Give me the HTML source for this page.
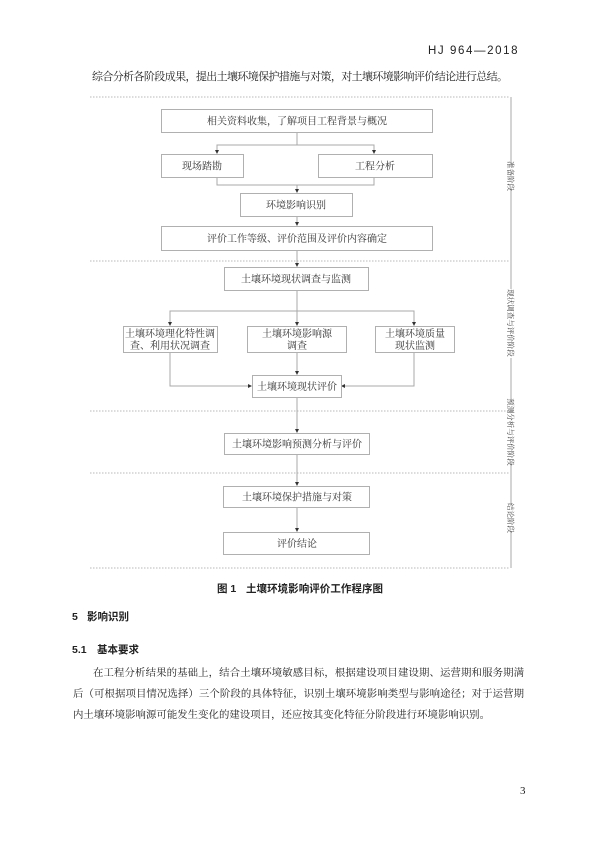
<!DOCTYPE html>
<html><head><meta charset="utf-8"><style>
html,body{margin:0;padding:0;background:#fff;}
svg{display:block;}
text{font-family:"Liberation Serif","Noto Serif CJK SC","Noto Sans CJK SC",serif;fill:#222;}
.b{fill:#fff;stroke:#b0b0b0;stroke-width:1;}
.l{stroke:#a8a8a8;stroke-width:1;fill:none;}
.d{stroke:#b8b8b8;stroke-width:1;stroke-dasharray:1.5,1.5;fill:none;}
.t{font-size:10px;fill:#333;}
.s{font-size:7.5px;fill:#444;}
.a{fill:#333;}
.h{font-family:"Liberation Sans","Noto Sans CJK SC",sans-serif;font-weight:bold;}
</style></head><body>
<svg width="600" height="848" viewBox="0 0 600 848" xmlns="http://www.w3.org/2000/svg">
<text x="428" y="54" font-size="11.5" letter-spacing="1.6" style="font-family:'Liberation Sans',sans-serif">HJ 964—2018</text>
<text x="92" y="80" font-size="11" textLength="416">综合分析各阶段成果，提出土壤环境保护措施与对策，对土壤环境影响评价结论进行总结。</text>

<line class="d" x1="90" y1="97" x2="510" y2="97"/>
<line class="d" x1="90" y1="261" x2="510" y2="261"/>
<line class="d" x1="90" y1="411" x2="510" y2="411"/>
<line class="d" x1="90" y1="473" x2="510" y2="473"/>
<line class="d" x1="90" y1="568" x2="510" y2="568"/>
<line class="l" x1="511" y1="97" x2="511" y2="164"/>
<line class="l" x1="511" y1="188" x2="511" y2="289"/>
<line class="l" x1="511" y1="358" x2="511" y2="402"/>
<line class="l" x1="511" y1="461" x2="511" y2="504"/>
<line class="l" x1="511" y1="531" x2="511" y2="568"/>
<text class="s" transform="translate(508,176) rotate(90)" text-anchor="middle">准备阶段</text>
<text class="s" transform="translate(508,323) rotate(90)" text-anchor="middle">现状调查与评价阶段</text>
<text class="s" transform="translate(508,432) rotate(90)" text-anchor="middle">预测分析与评价阶段</text>
<text class="s" transform="translate(508,518) rotate(90)" text-anchor="middle">结论阶段</text>

<polyline class="l" points="297,132 297,145"/>
<polyline class="l" points="217,152 217,145 374,145 374,152"/>
<polyline class="l" points="217,177 217,185 374,185 374,177"/>
<polyline class="l" points="297,185 297,191"/>
<polyline class="l" points="297,216 297,224"/>
<polyline class="l" points="297,250 297,265"/>
<polyline class="l" points="297,290 297,324"/>
<polyline class="l" points="170,324 170,311 414,311 414,324"/>
<polyline class="l" points="297,352 297,373"/>
<polyline class="l" points="170,352 170,386 250,386"/>
<polyline class="l" points="414,352 414,386 343,386"/>
<polyline class="l" points="297,397 297,431"/>
<polyline class="l" points="297,454 297,484"/>
<polyline class="l" points="297,507 297,530"/>
<path class="a" d="M215,150h4l-2,4z M372,150h4l-2,4z M295,189h4l-2,4z M295,222h4l-2,4z M295,263h4l-2,4z M168,322h4l-2,4z M295,322h4l-2,4z M412,322h4l-2,4z M295,371h4l-2,4z M248,384v4l4,-2z M345,384v4l-4,-2z M295,429h4l-2,4z M295,482h4l-2,4z M295,528h4l-2,4z"/>

<rect class="b" x="161.5" y="109.5" width="271" height="23"/>
<text class="t" x="297" y="124.5" text-anchor="middle">相关资料收集，了解项目工程背景与概况</text>
<rect class="b" x="161.5" y="154.5" width="82" height="23"/>
<text class="t" x="202" y="169.5" text-anchor="middle">现场踏勘</text>
<rect class="b" x="318.5" y="154.5" width="114" height="23"/>
<text class="t" x="375" y="169.5" text-anchor="middle">工程分析</text>
<rect class="b" x="240.5" y="193.5" width="112" height="23"/>
<text class="t" x="296" y="208.5" text-anchor="middle">环境影响识别</text>
<rect class="b" x="161.5" y="226.5" width="271" height="24"/>
<text class="t" x="297" y="242" text-anchor="middle">评价工作等级、评价范围及评价内容确定</text>

<rect class="b" x="224.5" y="267.5" width="144" height="23"/>
<text class="t" x="296" y="282.5" text-anchor="middle">土壤环境现状调查与监测</text>
<rect class="b" x="123.5" y="326.5" width="94" height="26"/>
<text class="t" x="170" y="337" text-anchor="middle">土壤环境理化特性调</text>
<text class="t" x="170" y="349" text-anchor="middle">查、利用状况调查</text>
<rect class="b" x="247.5" y="326.5" width="99" height="26"/>
<text class="t" x="297" y="337" text-anchor="middle">土壤环境影响源</text>
<text class="t" x="297" y="349" text-anchor="middle">调查</text>
<rect class="b" x="375.5" y="326.5" width="79" height="26"/>
<text class="t" x="415" y="337" text-anchor="middle">土壤环境质量</text>
<text class="t" x="415" y="349" text-anchor="middle">现状监测</text>
<rect class="b" x="252.5" y="375.5" width="89" height="22"/>
<text class="t" x="297" y="390" text-anchor="middle">土壤环境现状评价</text>

<rect class="b" x="224.5" y="433.5" width="145" height="21"/>
<text class="t" x="297" y="447.5" text-anchor="middle">土壤环境影响预测分析与评价</text>
<rect class="b" x="223.5" y="486.5" width="146" height="21"/>
<text class="t" x="297" y="500.5" text-anchor="middle">土壤环境保护措施与对策</text>
<rect class="b" x="223.5" y="532.5" width="146" height="22"/>
<text class="t" x="297" y="547" text-anchor="middle">评价结论</text>

<text class="h" x="217" y="592" font-size="10.5">图 1</text>
<text class="h" x="246" y="592" font-size="10.5" textLength="137">土壤环境影响评价工作程序图</text>

<text class="h" x="72" y="620" font-size="10.5">5</text>
<text class="h" x="87" y="620" font-size="10.5">影响识别</text>
<text class="h" x="72" y="653" font-size="10.5">5.1</text>
<text class="h" x="97" y="653" font-size="10.5">基本要求</text>

<text x="93" y="676" font-size="10.4" textLength="431">在工程分析结果的基础上，结合土壤环境敏感目标，根据建设项目建设期、运营期和服务期满</text>
<text x="73" y="697" font-size="10.4" textLength="451">后（可根据项目情况选择）三个阶段的具体特征，识别土壤环境影响类型与影响途径；对于运营期</text>
<text x="73" y="718" font-size="10.4" textLength="417">内土壤环境影响源可能发生变化的建设项目，还应按其变化特征分阶段进行环境影响识别。</text>

<text x="520" y="794" font-size="11">3</text>
</svg>
</body></html>
